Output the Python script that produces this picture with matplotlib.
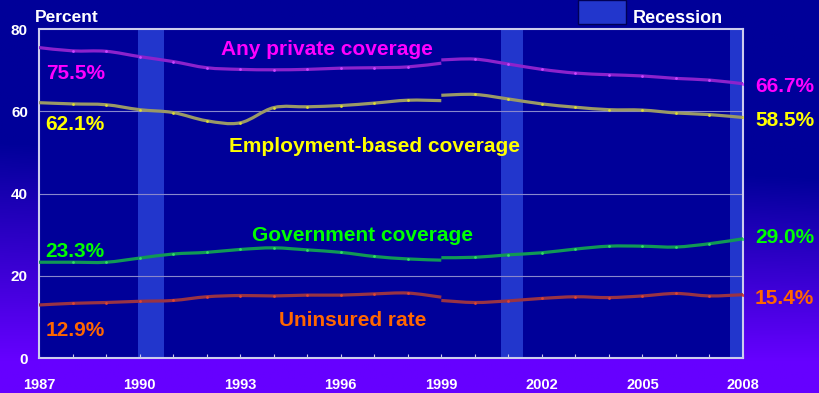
import numpy as np
import matplotlib
matplotlib.use("Agg")
import matplotlib.pyplot as plt
from matplotlib.colors import LinearSegmentedColormap
from matplotlib.patches import Rectangle, PathPatch
from matplotlib.path import Path

plt.rcParams["font.family"] = ["Liberation Sans", "DejaVu Sans"]
plt.rcParams["font.weight"] = "bold"

# 1999 で調査方法が変わるので系列を二つに分ける
years_a = [1987, 1988, 1989, 1990, 1991, 1992, 1993, 1994, 1995, 1996, 1997, 1998, 1999]
years_b = [1999, 2000, 2001, 2002, 2003, 2004, 2005, 2006, 2007, 2008]

private_a = [75.5, 74.7, 74.6, 73.3, 72.1, 70.6, 70.2, 70.1, 70.2, 70.5, 70.6, 70.8, 71.7]
private_b = [72.5, 72.7, 71.5, 70.2, 69.3, 68.9, 68.6, 68.0, 67.6, 66.7]
employ_a = [62.1, 61.8, 61.6, 60.4, 59.7, 57.7, 57.2, 60.9, 61.1, 61.4, 62.0, 62.7, 62.6]
employ_b = [63.9, 64.1, 63.0, 61.8, 61.0, 60.4, 60.3, 59.6, 59.2, 58.5]
govt_a = [23.3, 23.3, 23.3, 24.3, 25.3, 25.7, 26.4, 26.8, 26.3, 25.7, 24.7, 24.1, 23.8]
govt_b = [24.4, 24.5, 25.1, 25.6, 26.5, 27.2, 27.2, 27.0, 27.8, 29.0]
unins_a = [12.9, 13.3, 13.5, 13.8, 14.0, 14.9, 15.2, 15.1, 15.3, 15.3, 15.6, 15.8, 14.8]
unins_b = [14.0, 13.5, 13.9, 14.5, 14.9, 14.7, 15.1, 15.7, 15.1, 15.4]

rec_start = [1989.96, 2000.79, 2007.6]
rec_end = [1990.72, 2001.43, 2008.05]

yticks = [0, 20, 40, 60, 80]
xlabel_years = [1987, 1990, 1993, 1996, 1999, 2002, 2005, 2008]


def smooth_path(xs, ys):
    """ PowerPoint 風のなめらかな線（Catmull-Rom を 3 次ベジェで描く） """
    p = np.column_stack([xs, ys]).astype(float)
    ext = np.vstack([p[0], p, p[-1]])
    verts = [p[0]]
    codes = [Path.MOVETO]
    for i in range(len(p) - 1):
        p0, p1, p2, p3 = ext[i], ext[i + 1], ext[i + 2], ext[i + 3]
        verts += [p1 + (p2 - p0) / 6, p2 - (p3 - p1) / 6, p2]
        codes += [Path.CURVE4] * 3
    return Path(verts, codes)


fig = plt.figure(figsize=(8.2, 3.93), dpi=100)

# 背景グラデーション（右上が濃紺、左下が紫）
bg = fig.add_axes([0, 0, 1, 1], zorder=0)
gy, gx = np.mgrid[0:1:200j, 0:1:400j]
start = 0.36 + 0.09 * gx
t = np.clip((gy - start) / (0.92 - start), 0, 1)
cmap_bg = LinearSegmentedColormap.from_list("bg", ["#000099", "#6600ff"])
bg.imshow(t, cmap=cmap_bg, aspect="auto", extent=[0, 1, 0, 1], vmin=0, vmax=1)
bg.set_axis_off()

ax = fig.add_axes([0.0476, 0.089, 0.8585, 0.837], zorder=1)
ax.set_facecolor("#000099")
ax.set_xlim(1987, 2008)
ax.set_ylim(0, 80)

for s, e in zip(rec_start, rec_end):
    ax.axvspan(s, e, color="#2236cc", zorder=1, lw=0)

for yv in yticks[1:-1]:
    ax.axhline(yv, color="#8888cc", lw=0.8, zorder=1.5)

series = [
    (private_a, private_b, "#8c22cc", "#cc44ff"),
    (employ_a, employ_b, "#9a9966", "#dddd33"),
    (govt_a, govt_b, "#119955", "#33dd66"),
    (unins_a, unins_b, "#993344", "#dd4433"),
]
for ya, yb, lc, mc in series:
    for xs, ys in ((years_a, ya), (years_b, yb)):
        ax.add_patch(PathPatch(smooth_path(xs, ys), fill=False, edgecolor=lc,
                               lw=2.3, zorder=3, capstyle="butt"))
    ax.plot(years_a[1:-1], ya[1:-1], ls="none", marker="o", ms=2, color=mc,
            mec="none", zorder=4)
    ax.plot(years_b[1:], yb[1:], ls="none", marker="o", ms=2, color=mc,
            mec="none", zorder=4)

for sp in ax.spines.values():
    sp.set_color("#ccccee")
    sp.set_linewidth(1.5)

ax.set_yticks(yticks)
ax.set_yticklabels([str(v) for v in yticks])
ax.tick_params(axis="y", length=0, pad=8, labelsize=11, labelcolor="white")
ax.set_xticks(list(range(1987, 2009)))
ax.set_xticklabels([str(y) if y in xlabel_years else "" for y in range(1987, 2009)])
ax.tick_params(axis="x", direction="in", length=3, color="#ccccee", pad=14.5,
               labelsize=10.5, labelcolor="white")

# 系列名ラベル
ax.text(1995.58, 73.7, "Any private coverage", color="#ff00ff", fontsize=15,
        ha="center", va="baseline", zorder=5)
ax.text(1997.0, 50.2, "Employment-based coverage", color="#ffff00", fontsize=15,
        ha="center", va="baseline", zorder=5)
ax.text(1996.65, 28.5, "Government coverage", color="#00ff00", fontsize=15,
        ha="center", va="baseline", zorder=5)
ax.text(1996.37, 7.8, "Uninsured rate", color="#ff6600", fontsize=15,
        ha="center", va="baseline", zorder=5)

# 始点・終点の値
left_lbl = [("75.5%", 69.2, "#ff00ff"), ("62.1%", 56.8, "#ffff00"),
            ("23.3%", 26.0, "#00ff00"), ("12.9%", 6.7, "#ff6600")]
right_lbl = [("66.7%", 66.0, "#ff00ff"), ("58.5%", 57.8, "#ffff00"),
             ("29.0%", 29.3, "#00ff00"), ("15.4%", 14.5, "#ff6600")]
for txt, yv, c in left_lbl:
    ax.text(1987.2, yv, txt, color=c, fontsize=15, ha="left", va="center", zorder=5)
for txt, yv, c in right_lbl:
    ax.text(2008.36, yv, txt, color=c, fontsize=15, ha="left", va="center", zorder=5)

fig.text(35 / 820, 1 - 21.7 / 393, "Percent", color="white", fontsize=12.5,
         ha="left", va="baseline")
fig.add_artist(Rectangle((578 / 820, 1 - 24 / 393), 48 / 820, 24 / 393,
                         transform=fig.transFigure, facecolor="#2236cc",
                         edgecolor="#000055", lw=1, zorder=2))
fig.text(632.5 / 820, 1 - 22.7 / 393, "Recession", color="white", fontsize=13,
         ha="left", va="baseline")

fig.savefig("out.png", dpi=100)
